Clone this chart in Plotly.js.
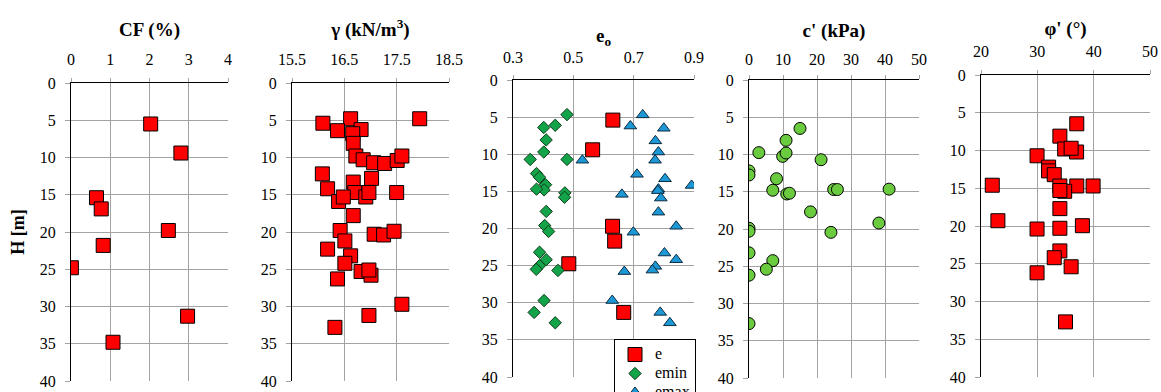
<!DOCTYPE html>
<html>
<head>
<meta charset="utf-8">
<script src="https://cdn.plot.ly/plotly-3.0.1.min.js"></script>
<style>
html,body{margin:0;padding:0;background:#fff;}
</style>
</head>
<body>
<div id="chart"></div>
<script>
// ---- Data ----
const depthTicks = [0, 5, 10, 15, 20, 25, 30, 35, 40];

const cfValues = [2.03, 2.80, 0.65, 0.77, 2.48, 0.82, 0.01, 2.97, 1.07];
const cfDepth  = [5.5, 9.4, 15.4, 16.9, 19.8, 21.8, 24.8, 31.3, 34.8];
const cfTicks  = [0, 1, 2, 3, 4];

const gammaValues = [17.94, 16.09, 16.62, 16.37, 16.82, 16.66, 16.67, 16.72, 16.86, 17.06,
                     17.27, 17.51, 17.60, 16.08, 17.02, 16.67, 16.18, 16.70, 16.91, 16.97,
                     16.39, 16.48, 17.50, 16.67, 16.42, 16.51, 16.18, 17.07, 17.25, 17.45,
                     16.62, 16.51, 16.37, 16.82, 17.01, 16.97, 17.60, 16.97, 16.32];
const gammaDepth  = [4.8, 5.4, 4.8, 6.4, 6.25, 6.8, 8.1, 9.8, 10.3, 10.7,
                     10.8, 10.4, 9.8, 12.2, 12.8, 13.3, 14.2, 14.7, 15.3, 14.7,
                     15.9, 15.3, 14.7, 17.8, 19.8, 21.2, 22.3, 20.3, 20.4, 19.9,
                     23.2, 24.2, 26.3, 25.3, 25.8, 25.1, 29.7, 31.2, 32.8];
const gammaTicks  = [15.5, 16.5, 17.5, 18.5];

const eValues = [0.631, 0.564, 0.630, 0.637, 0.485, 0.667];
const eDepth  = [5.4, 9.4, 19.7, 21.7, 24.75, 31.3];

const eminValues = [0.479, 0.440, 0.402, 0.410, 0.402, 0.357, 0.479, 0.378, 0.388, 0.408,
                    0.403, 0.378, 0.472, 0.471, 0.410, 0.405, 0.418, 0.388, 0.410, 0.388,
                    0.377, 0.449, 0.403, 0.370, 0.440];
const eminDepth  = [4.66, 6.1, 6.4, 8.07, 9.7, 10.7, 10.7, 12.6, 13.1, 14.1,
                    14.8, 14.7, 15.2, 15.8, 17.7, 19.6, 20.4, 23.2, 24.2, 25.0,
                    25.5, 25.65, 29.7, 31.3, 32.7];

const emaxValues = [0.730, 0.689, 0.800, 0.772, 0.782, 0.771, 0.530, 0.711, 0.804, 0.892,
                    0.782, 0.780, 0.790, 0.661, 0.782, 0.841, 0.699, 0.802, 0.841, 0.772,
                    0.762, 0.669, 0.629, 0.788, 0.820];
const emaxDepth  = [4.7, 6.2, 6.5, 8.2, 9.7, 10.8, 10.8, 12.7, 13.3, 14.2,
                    14.7, 14.9, 15.9, 15.4, 17.8, 19.7, 20.5, 23.3, 24.2, 25.1,
                    25.6, 25.8, 29.7, 31.3, 32.7];
const eoTicks = [0.3, 0.5, 0.7, 0.9];

const cValues = [15.0, 10.9, 2.9, 9.9, 10.9, 21.2, 0, 0, 8.1, 7.0,
                 11.1, 11.9, 24.9, 26.0, 41.2, 18.1, 38.2, 0, 0, 24.1,
                 0, 7.0, 5.1, 0, 0];
const cDepth  = [6.5, 8.1, 9.75, 10.25, 9.8, 10.7, 12.2, 12.75, 13.25, 14.8,
                 15.3, 15.2, 14.7, 14.7, 14.65, 17.7, 19.2, 19.9, 20.3, 20.45,
                 23.2, 24.25, 25.4, 26.2, 32.7];
const cTicks  = [0, 10, 20, 30, 40, 50];

const phiValues = [37.0, 34.0, 34.85, 36.97, 36.0, 29.95, 32.0, 32.0, 33.0, 22.0,
                   34.0, 37.0, 39.9, 34.85, 34.0, 34.0, 23.0, 38.0, 29.95, 34.0,
                   34.0, 33.0, 36.0, 29.95, 35.0];
const phiDepth  = [6.46, 8.1, 9.8, 10.2, 9.7, 10.7, 12.2, 12.7, 13.2, 14.6,
                   14.7, 14.7, 14.7, 15.4, 15.3, 17.7, 19.3, 19.96, 20.4, 20.3,
                   23.3, 24.2, 25.4, 26.2, 32.7];
const phiTicks  = [20, 30, 40, 50];

const panelTitles = ['<b>CF (%)</b>', '<b>γ (kN/m<sup>3</sup>)</b>', '<b>e<sub>o</sub></b>', "<b>c' (kPa)</b>", "<b>φ' (°)</b>"];
const legendNames = ['e', 'emin', 'emax'];
const depthTitle = '<b>H [m]</b>';

// ---- Layout geometry (pixels) ----
const W = 1161, H = 392;
const GRID = '#a3a3a3';
const boxes = [
  {x0: 71,  x1: 228, y0: 83, y1: 381, tso: 9, lso: 6},
  {x0: 292, x1: 449, y0: 83, y1: 381, tso: 9, lso: 6},
  {x0: 513, x1: 694, y0: 80, y1: 377, tso: 1, lso: 5},
  {x0: 749, x1: 919, y0: 80, y1: 378, tso: 8, lso: 3},
  {x0: 981, x1: 1150, y0: 75, y1: 377, tso: 2, lso: 6}
];
const tickSets = [cfTicks, gammaTicks, eoTicks, cTicks, phiTicks];

const sq = (c) => ({symbol: 'square', size: 14, color: c, line: {color: '#000', width: 1}});
const legName = (t) => '<span style="font-size:16px">' + t + '</span>';

const traces = [
  {x: cfValues, y: cfDepth, xaxis: 'x', yaxis: 'y', mode: 'markers', marker: sq('#ff0000'), showlegend: false},
  {x: gammaValues, y: gammaDepth, xaxis: 'x2', yaxis: 'y2', mode: 'markers', marker: sq('#ff0000'), showlegend: false},
  {x: eValues, y: eDepth, xaxis: 'x3', yaxis: 'y3', mode: 'markers', name: legName(legendNames[0]), marker: sq('#ff0000')},
  {x: eminValues, y: eminDepth, xaxis: 'x3', yaxis: 'y3', mode: 'markers', name: legName(legendNames[1]),
   marker: {symbol: 'diamond', size: 9.5, color: '#13a44a', line: {color: '#0d3d1a', width: 1}}},
  {x: emaxValues, y: emaxDepth, xaxis: 'x3', yaxis: 'y3', mode: 'markers', name: legName(legendNames[2]),
   marker: {symbol: 'triangle-up', size: 11, color: '#1d98d6', line: {color: '#0a2a40', width: 1}}},
  {x: cValues, y: cDepth, xaxis: 'x4', yaxis: 'y4', mode: 'markers', showlegend: false,
   marker: {symbol: 'circle', size: 12, color: '#6acb3e', line: {color: '#000', width: 1}}},
  {x: phiValues, y: phiDepth, xaxis: 'x5', yaxis: 'y5', mode: 'markers', marker: sq('#ff0000'), showlegend: false}
];

const layout = {
  width: W, height: H,
  margin: {l: 0, r: 0, t: 0, b: 0, pad: 0, autoexpand: false},
  paper_bgcolor: '#ffffff', plot_bgcolor: '#ffffff',
  font: {family: 'Liberation Serif', size: 16, color: '#000000'},
  showlegend: true,
  legend: {
    x: 614 / W, y: 1 - 339 / H, xanchor: 'left', yanchor: 'top',
    bgcolor: '#ffffff', bordercolor: '#000000', borderwidth: 1,
    font: {size: 12},
    tracegroupgap: 0, itemwidth: 30
  }
};

boxes.forEach((b, i) => {
  const s = i === 0 ? '' : String(i + 1);
  const ticks = tickSets[i];
  layout['xaxis' + s] = {
    domain: [b.x0 / W, b.x1 / W],
    anchor: 'y' + s,
    side: 'top',
    range: [ticks[0], ticks[ticks.length - 1]],
    tickvals: ticks,
    ticktext: ticks.map(String),
    showgrid: true, gridcolor: GRID, gridwidth: 1,
    zeroline: false,
    showline: true, linecolor: '#000000', linewidth: 1.3,
    ticks: 'outside', ticklen: 4, tickcolor: GRID, tickwidth: 1,
    ticklabelstandoff: b.lso,
    tickfont: {size: 16},
    title: {text: panelTitles[i], font: {size: 19}, standoff: b.tso},
    automargin: false, fixedrange: true
  };
  layout['yaxis' + s] = {
    domain: [1 - b.y1 / H, 1 - b.y0 / H],
    anchor: 'x' + s,
    range: [40, 0],
    tickvals: depthTicks,
    ticktext: depthTicks.map(String),
    showgrid: true, gridcolor: GRID, gridwidth: 1,
    zeroline: false,
    showline: true, linecolor: '#000000', linewidth: 1.3,
    ticks: 'outside', ticklen: 5, tickcolor: GRID, tickwidth: 1,
    ticklabelstandoff: 6,
    tickfont: {size: 16},
    automargin: false, fixedrange: true
  };
});
layout.yaxis.title = {text: depthTitle, font: {size: 18}, standoff: 10};

Plotly.newPlot('chart', traces, layout, {displayModeBar: false});
</script>
</body>
</html>
